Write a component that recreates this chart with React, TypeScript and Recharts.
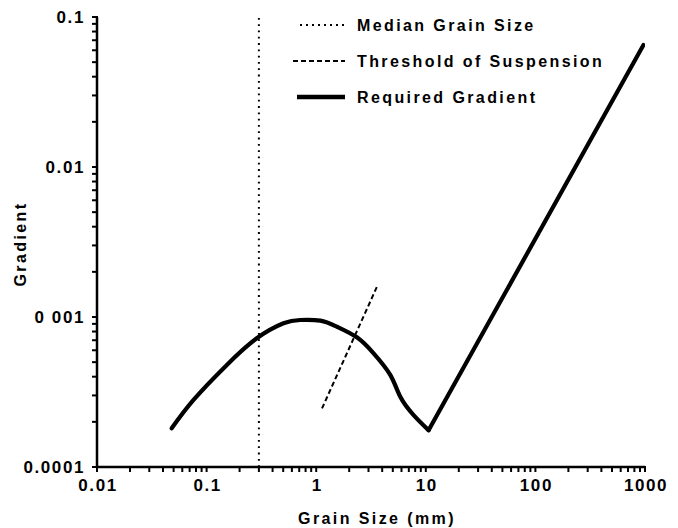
import React from "react";
import { ComposedChart, Line, XAxis, YAxis } from "recharts";

// Required gradient: curved part up to the minimum, then the straight rising leg
const curveSize = [0.048, 0.076, 0.153, 0.287, 0.503, 0.714, 1.09, 1.55, 2.35, 3.34, 4.74, 5.85, 7.74, 10.6];
const curveGradient = [
  0.000181, 0.00028, 0.000479, 0.000721, 0.000908, 0.000955, 0.000945, 0.000861, 0.000732, 0.000573,
  0.000411, 0.000294, 0.000222, 0.000176,
];
const riseSize = [10.6, 968];
const riseGradient = [0.000176, 0.065];

// Threshold of suspension
const thresholdSize = [1.13, 3.61];
const thresholdGradient = [0.000246, 0.00161];

// Median grain size (vertical marker)
const medianSize = [0.3, 0.3];
const medianGradient = [0.0001, 0.1];

const xMajor = [0.01, 0.1, 1, 10, 100, 1000];
const xLabels = ["0.01", "0.1", "1", "10", "100", "1000"];
const yMajor = [0.0001, 0.001, 0.01, 0.1];
const yLabels = ["0.0001", "0 001", "0.01", "0.1"];

const legendItems = [
  { name: "Median Grain Size", dash: "2 4", width: 2, x1: 300 },
  { name: "Threshold of Suspension", dash: "5 3", width: 2, x1: 293 },
  { name: "Required Gradient", dash: undefined, width: 4.5, x1: 297 },
];

const zip = (xs: number[], ys: number[]) => xs.map((x, i) => ({ x, y: ys[i] }));

const minorTicks = (majors: number[]) => {
  const out: number[] = [];
  majors.forEach((m, i) => {
    out.push(m);
    if (i < majors.length - 1) {
      for (let k = 2; k <= 9; k++) out.push(m * k);
    }
  });
  return out;
};

const FONT = "'Liberation Sans', Arial, sans-serif";

const textStyle = {
  fontFamily: FONT,
  fontWeight: "bold" as const,
  fill: "#000",
};

// custom ticks: draw the tick mark outward plus a label on decades only
const XTick = (props: any) => {
  const { x, y, payload } = props;
  const idx = xMajor.indexOf(payload.value);
  return (
    <g>
      <line x1={x} x2={x} y1={y - 6} y2={y} stroke="#000" strokeWidth={2} />
      {idx >= 0 && (
        <text x={x + 1} y={y + 19} textAnchor="middle" fontSize={17} letterSpacing={1.6} {...textStyle}>
          {xLabels[idx]}
        </text>
      )}
    </g>
  );
};

const YTick = (props: any) => {
  const { x, y, payload } = props;
  const idx = yMajor.indexOf(payload.value);
  return (
    <g>
      <line x1={x} x2={x + 6} y1={y} y2={y} stroke="#000" strokeWidth={2} />
      {idx >= 0 && (
        <text x={x - 7} y={y + 6} textAnchor="end" fontSize={17} letterSpacing={1.6} {...textStyle}>
          {yLabels[idx]}
        </text>
      )}
    </g>
  );
};

const Overlay = () => (
  <svg
    width={678}
    height={528}
    style={{ position: "absolute", left: 0, top: 0, pointerEvents: "none" }}
  >
    {legendItems.map((item, i) => {
      const cy = 25 + i * 36;
      return (
        <g key={item.name}>
          <line
            x1={item.x1}
            x2={345}
            y1={cy}
            y2={cy}
            stroke="#000"
            strokeWidth={item.width}
            strokeDasharray={item.dash}
          />
          <text x={357} y={cy + 6} fontSize={16} letterSpacing={2.4} {...textStyle}>
            {item.name}
          </text>
        </g>
      );
    })}
    <text x={377} y={524} textAnchor="middle" fontSize={16} letterSpacing={2.4} {...textStyle}>
      Grain Size (mm)
    </text>
    <text
      transform="translate(26,244) rotate(-90)"
      textAnchor="middle"
      fontSize={16}
      letterSpacing={2.4}
      {...textStyle}
    >
      Gradient
    </text>
  </svg>
);

export default function App() {
  const curveData = zip(curveSize, curveGradient);
  const riseData = zip(riseSize, riseGradient);
  const thresholdData = zip(thresholdSize, thresholdGradient);
  const medianData = zip(medianSize, medianGradient);

  return (
    <div style={{ position: "absolute", left: 0, top: 0, width: 678, height: 528, background: "#fff" }}>
      <ComposedChart width={678} height={528} margin={{ top: 17, right: 33, bottom: 60, left: 96 }}>
        <XAxis
          type="number"
          dataKey="x"
          scale="log"
          domain={[0.01, 1000]}
          allowDataOverflow
          ticks={minorTicks(xMajor)}
          interval={0}
          height={1}
          tickSize={5}
          tickMargin={0}
          tickLine={false}
          tick={<XTick />}
          axisLine={{ stroke: "#000", strokeWidth: 2.5 }}
        />
        <YAxis
          type="number"
          dataKey="y"
          scale="log"
          domain={[0.0001, 0.1]}
          allowDataOverflow
          ticks={minorTicks(yMajor)}
          interval={0}
          width={1}
          tickSize={5}
          tickMargin={0}
          tickLine={false}
          tick={<YTick />}
          axisLine={{ stroke: "#000", strokeWidth: 2.5 }}
        />
        <Line
          data={medianData}
          dataKey="y"
          name="Median Grain Size"
          type="linear"
          stroke="#000"
          strokeWidth={2}
          strokeDasharray="1.8 4.5"
          dot={false}
          isAnimationActive={false}
        />
        <Line
          data={thresholdData}
          dataKey="y"
          name="Threshold of Suspension"
          type="linear"
          stroke="#000"
          strokeWidth={2}
          strokeDasharray="5 3"
          dot={false}
          isAnimationActive={false}
        />
        <Line
          data={curveData}
          dataKey="y"
          name="Required Gradient"
          type="natural"
          stroke="#000"
          strokeWidth={4.2}
          strokeLinecap="round"
          strokeLinejoin="round"
          dot={false}
          isAnimationActive={false}
        />
        <Line
          data={riseData}
          dataKey="y"
          name="Required Gradient (rising)"
          type="linear"
          stroke="#000"
          strokeWidth={4.2}
          strokeLinecap="round"
          strokeLinejoin="round"
          dot={false}
          isAnimationActive={false}
        />
      </ComposedChart>
      <Overlay />
    </div>
  );
}
